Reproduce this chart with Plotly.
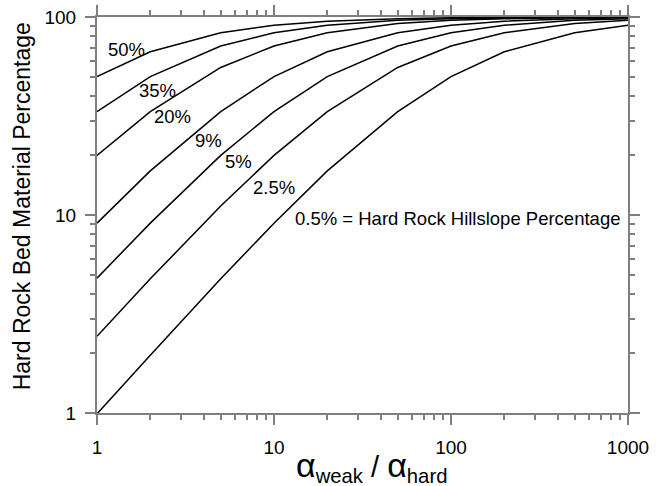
import numpy as np
import plotly.graph_objects as go

# Erodibility ratio alpha_weak / alpha_hard at which each curve is evaluated
ratio = [1, 2, 5, 10, 20, 50, 100, 200, 500, 1000]

# Hard rock bed material percentage for each hillslope percentage
bed_50 = [50.0, 66.7, 83.3, 90.9, 95.2, 98.0, 99.0, 99.5, 99.8, 99.9]
bed_35 = [33.3, 50.0, 71.4, 83.3, 90.9, 96.2, 98.0, 99.0, 99.6, 99.8]
bed_20 = [20.0, 33.3, 55.6, 71.4, 83.3, 92.6, 96.2, 98.0, 99.2, 99.6]
bed_9 = [9.1, 16.7, 33.3, 50.0, 66.7, 83.3, 90.9, 95.2, 98.0, 99.0]
bed_5 = [4.8, 9.1, 20.0, 33.3, 50.0, 71.4, 83.3, 90.9, 96.2, 98.0]
bed_2p5 = [2.44, 4.76, 11.1, 20.0, 33.3, 55.6, 71.4, 83.3, 92.6, 96.2]
bed_0p5 = [0.99, 1.96, 4.76, 9.09, 16.7, 33.3, 50.0, 66.7, 83.3, 90.9]

series = [bed_50, bed_35, bed_20, bed_9, bed_5, bed_2p5, bed_0p5]
labels = ["50%", "35%", "20%", "9%", "5%", "2.5%",
          "0.5% = Hard Rock Hillslope Percentage"]
# label anchor positions (log10 x, log10 y) beside each curve
label_pos = [(0.168, 1.837), (0.341, 1.627), (0.428, 1.499), (0.629, 1.378),
             (0.798, 1.272), (0.999, 1.141), (1.107, 0.980)]

FONT = "Liberation Sans, Arial, Helvetica, sans-serif"
AXIS_GRAY = "#7f7f7f"

fig = go.Figure()
for vals, name in zip(series, labels):
    fig.add_trace(go.Scatter(x=ratio, y=vals, mode="lines", name=name,
                             line=dict(color="black", width=1.5),
                             showlegend=False, hoverinfo="x+y"))

for (lx, ly), text in zip(label_pos, labels):
    fig.add_annotation(x=lx, y=ly, xref="x", yref="y", text=text,
                       showarrow=False,
                       xanchor="left" if text.startswith("0.5") else "center",
                       yanchor="middle",
                       font=dict(family=FONT, size=18.5, color="black"))

# axis titles
alpha = "<span style='font-size:34px'>α</span>"
fig.add_annotation(x=0.5166, y=-0.135, xref="paper", yref="paper",
                   text=f"{alpha}<sub>weak</sub> / {alpha}<sub>hard</sub>",
                   showarrow=False, xanchor="center", yanchor="middle",
                   font=dict(family=FONT, size=29, color="black"))
fig.add_annotation(x=-0.1407, y=0.5227, xref="paper", yref="paper",
                   text="Hard Rock Bed Material Percentage", textangle=-90,
                   showarrow=False, xanchor="center", yanchor="middle",
                   font=dict(family=FONT, size=23, color="black"))

axis_common = dict(
    type="log", showgrid=False, zeroline=False, dtick=1, automargin=False,
    showline=True, linecolor=AXIS_GRAY, linewidth=2, mirror="allticks",
    ticks="outside", ticklen=10, tickwidth=1.5, tickcolor=AXIS_GRAY,
    tickfont=dict(family=FONT, size=19, color="black"),
    minor=dict(ticks="outside", ticklen=5, tickwidth=1.5,
               tickcolor=AXIS_GRAY, dtick="D1", showgrid=False),
)

fig.update_xaxes(range=[0, 3], ticklabelstandoff=6, **axis_common)
fig.update_yaxes(range=[0, 2], ticklabelstandoff=5, **axis_common)

fig.update_layout(
    width=665, height=486,
    margin=dict(l=97, r=37, t=17, b=73),
    paper_bgcolor="white", plot_bgcolor="white",
    font=dict(family=FONT, color="black"),
)

fig.write_html("out.html")
